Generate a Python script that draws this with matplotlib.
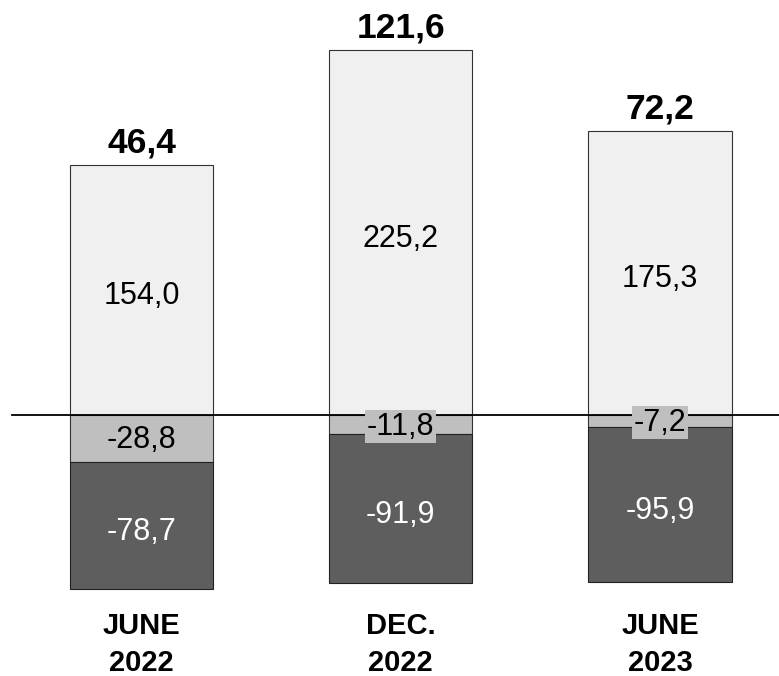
import numpy as np
import matplotlib
matplotlib.use("Agg")
import matplotlib.pyplot as plt
import matplotlib.transforms as mtransforms

plt.rcParams['font.family'] = ['Liberation Sans', 'DejaVu Sans']

# data
categories = ["JUNE\n2022", "DEC.\n2022", "JUNE\n2023"]
positive = [154.0, 225.2, 175.3]
negative_small = [-28.8, -11.8, -7.2]
negative_large = [-78.7, -91.9, -95.9]
totals = [46.4, 121.6, 72.2]

light = "#f0f0f0"
mid = "#bfbfbf"
dark = "#5e5e5e"


def fmt(v):
    return f"{v:.1f}".replace(".", ",")


fig = plt.figure(figsize=(7.79, 6.76), dpi=100)
ax = fig.add_axes([0, 0, 1, 1])

x = np.arange(len(categories))
width = 0.552

# bars
ax.bar(x, positive, width, color=light, edgecolor="#333333", linewidth=0.8, zorder=2)
ax.bar(x, negative_small, width, color=mid, edgecolor="#333333", linewidth=0.8, zorder=2)
ax.bar(x, negative_large, width, bottom=negative_small, color=dark,
       edgecolor="#222222", linewidth=0.8, zorder=2)

# zero line
ax.axhline(0, xmin=0.015, xmax=1, color="black", linewidth=1.3, zorder=3)

# segment labels (nudged a bit below the segment centre, like the original)
for i in range(len(x)):
    ax.annotate(fmt(positive[i]), (x[i], positive[i] / 2), xytext=(0, -4.5),
                textcoords="offset points", ha="center", va="center",
                fontsize=22, color="black", zorder=4)
    ax.annotate(fmt(negative_small[i]), (x[i], negative_small[i] / 2),
                xytext=(0, -1.5), textcoords="offset points", ha="center",
                va="center", fontsize=22, color="black", zorder=4,
                bbox=dict(facecolor=mid, edgecolor="none", pad=1))
    ax.annotate(fmt(negative_large[i]), (x[i], negative_small[i] + negative_large[i] / 2),
                xytext=(0, -4.5), textcoords="offset points", ha="center",
                va="center", fontsize=22, color="white", zorder=4)
    ax.annotate(fmt(totals[i]), (x[i], positive[i]), xytext=(0, 9),
                textcoords="offset points", ha="center", va="baseline",
                fontsize=25.5, fontweight="bold")

# category labels
trans = mtransforms.blended_transform_factory(ax.transData, ax.transAxes)
for i, cat in enumerate(categories):
    ax.text(x[i], 0.095, cat, transform=trans, ha="center", va="top",
            fontsize=21, fontweight="bold", linespacing=1.4)

ax.set_xlim(-0.546, 2.459)
ax.set_ylim(-160.9, 255.9)
ax.axis("off")

fig.savefig("out.png", dpi=100)
